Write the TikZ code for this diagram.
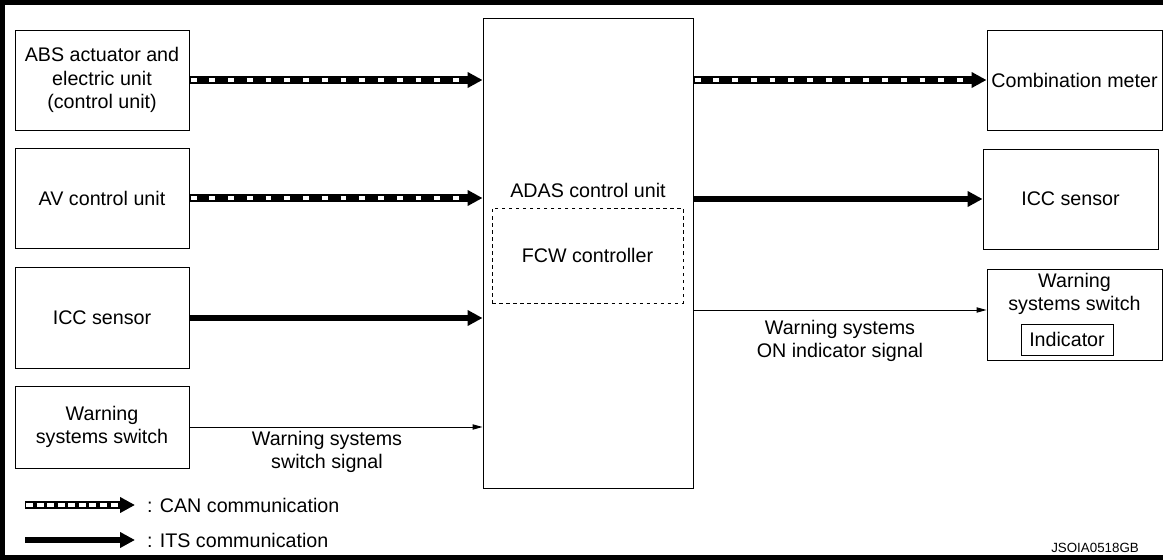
\documentclass[tikz,border=0pt]{standalone}
\usepackage{fontspec}
\setmainfont{Liberation Sans}
\usetikzlibrary{arrows.meta,positioning,calc}
\newcommand{\mainfnt}{\fontsize{16.8}{20}\selectfont}
\newcommand{\tagfnt}{\fontsize{11.4}{13}\selectfont}
\tikzset{
  unit/.style={draw,line width=0.8pt,align=center,inner sep=2pt,font=\mainfnt},
  lbl/.style={align=center,font=\mainfnt},
  canarr/.style={line width=6pt,-{Triangle[length=12.8pt,width=12.8pt]},
    postaction={draw=white,line width=3.4pt,dash pattern=on 5pt off 11pt,-,
      shorten >=14pt,shorten <=1pt}},
  canlegend/.style={line width=6pt,-{Triangle[length=12.8pt,width=12.8pt]},
    postaction={draw=white,line width=3.4pt,dash pattern=on 6pt off 3pt,-,
      shorten >=14pt,shorten <=1pt}},
  itsarr/.style={line width=5pt,-{Triangle[length=12.8pt,width=12.8pt]}},
  sigarr/.style={line width=0.8pt,-{Triangle[length=8.5pt,width=4.5pt]}},
  frame/.style={line width=4pt},
}

\begin{document}
\begin{tikzpicture}[x=0.03cm,y=-0.03cm]
  \useasboundingbox (0,0) rectangle (1163,560);
  \draw[frame] (1163,2.5) -- (2.5,2.5) -- (2.5,557.5) -- (1163,557.5);
  % left column
  \node[unit,minimum width=5.22cm,minimum height=3cm] (abs) at (102,80) {ABS actuator and\\electric unit\\(control unit)};
  \node[unit,minimum width=5.22cm,minimum height=3cm] (av) at (102,198) {AV control unit};
  \node[unit,minimum width=5.22cm,minimum height=3.03cm] (iccl) at (102,318) {ICC sensor};
  \node[unit,minimum width=5.22cm,minimum height=2.46cm] (wssl) at (102,427) {Warning\\systems switch};
  % controller
  \node[unit,minimum width=6.3cm,minimum height=14.1cm] (adas) at (588,253) {};
  \node[lbl] (adaslbl) at (588,190) {ADAS control unit};
  \node[unit,dashed,minimum width=5.73cm,minimum height=2.85cm] (fcw) at (587.5,255.5) {FCW controller};
  % right column
  \node[unit,minimum width=5.25cm,minimum height=3cm] (meter) at (1074.5,80) {Combination meter};
  \node[unit,minimum width=5.25cm,minimum height=3cm] (iccr) at (1070.5,199) {ICC sensor};
  \node[unit,minimum width=5.25cm,minimum height=2.73cm] (wssr) at (1074.5,314.5) {};
  \node[lbl] (wssrlbl) at (1074.5,294) {Warning\\systems switch};
  \node[unit,minimum width=2.76cm,minimum height=0.93cm] (ind) at (1067,339.5) {Indicator};
  % connections
  \draw[canarr] (abs.east) -- (abs.east -| adas.west);
  \draw[canarr] (av.east) -- (av.east -| adas.west);
  \draw[itsarr] (iccl.east) -- (iccl.east -| adas.west);
  \draw[sigarr] (wssl.east) -- (wssl.east -| adas.west);
  \node[lbl] (swsig) at (327,452) {Warning systems\\switch signal};
  \draw[canarr] (adas.east |- meter.west) -- (meter.west);
  \draw[itsarr] (adas.east |- iccr.west) -- (iccr.west);
  \draw[sigarr] (adas.east |- 0,310) -- (wssr.west |- 0,310);
  \node[lbl] (onsig) at (840,341) {Warning systems\\ON indicator signal};
  % legend
  \coordinate (canstart) at (25,505);
  \coordinate (itsstart) at (25,540);
  \node[lbl,anchor=west] (cantxt) at (143,505) {: CAN communication};
  \node[lbl,anchor=west] (itstxt) at (143,540) {: ITS communication};
  \draw[canlegend] (canstart) -- ([xshift=-0.24cm]cantxt.west);
  \draw[itsarr] (itsstart) -- ([xshift=-0.24cm]itstxt.west);
  \node[font=\tagfnt,anchor=east] (tag) at (1143,548) {JSOIA0518GB};
\end{tikzpicture}
\end{document}
